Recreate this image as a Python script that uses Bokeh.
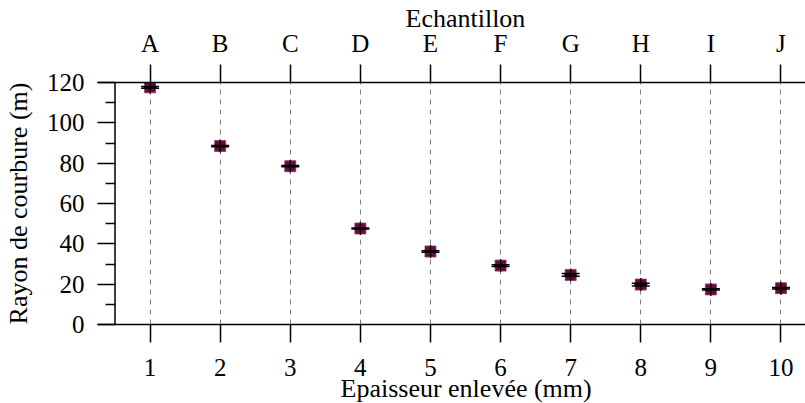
from bokeh.plotting import figure
from bokeh.models import (ColumnDataSource, FixedTicker, LinearAxis, Whisker,
                          TeeHead, Title, Range1d, Span)
from bokeh.embed import file_html
from bokeh.resources import INLINE

# ---- data ----
thickness = [1, 2, 3, 4, 5, 6, 7, 8, 9, 10]
samples = ["A", "B", "C", "D", "E", "F", "G", "H", "I", "J"]
radius = [117.6, 88.5, 78.5, 47.6, 36.2, 29.2, 24.6, 19.8, 17.4, 18.0]
radius_err = [0.4, 0.3, 0.3, 0.3, 0.4, 0.4, 0.65, 0.65, 0.3, 0.35]
y_ticks = [0, 20, 40, 60, 80, 100, 120]
y_minor_ticks = [10, 30, 50, 70, 90, 110]

FONT = "Liberation Serif"
FS = "25px"      # tick labels
FS_T = "26px"    # axis titles

source = ColumnDataSource(dict(
    x=thickness, y=radius,
    upper=[r + e for r, e in zip(radius, radius_err)],
    lower=[r - e for r, e in zip(radius, radius_err)],
))

p = figure(width=805, height=403,
           x_range=Range1d(0.25, 10.35), y_range=Range1d(0, 120),
           output_backend="svg", toolbar_location=None,
           min_border_left=97, min_border_right=0,
           min_border_top=82, min_border_bottom=79)
p.outline_line_color = None
p.background_fill_color = "white"
p.border_fill_color = "white"


def style_labels(ax):
    ax.major_label_text_font = FONT
    ax.major_label_text_font_size = FS
    ax.major_label_text_color = "black"
    ax.major_tick_line_width = 1.5
    ax.minor_tick_line_width = 1.5
    ax.axis_line_width = 1.5


# bottom axis
xa = p.xaxis[0]
xa.ticker = FixedTicker(ticks=thickness)
xa.major_tick_out = 18
xa.major_tick_in = 0
xa.minor_tick_line_color = None
xa.major_label_standoff = 16
style_labels(xa)

# top axis
top = LinearAxis(ticker=FixedTicker(ticks=thickness),
                 major_label_overrides={t: s for t, s in zip(thickness, samples)})
top.major_tick_out = 18
top.major_tick_in = 0
top.minor_tick_line_color = None
top.major_label_standoff = 8
style_labels(top)
p.add_layout(top, "above")

# left axis: labels outside the frame, ticks reaching the line at x = 0.5
ya = p.yaxis[0]
ya.ticker = FixedTicker(ticks=y_ticks, minor_ticks=y_minor_ticks)
ya.major_tick_out = 0
ya.major_tick_in = 18
ya.minor_tick_out = -8
ya.minor_tick_in = 18
ya.axis_line_color = None
ya.major_label_standoff = 13
style_labels(ya)
ya.axis_label = "Rayon de courbure (m)"
ya.axis_label_text_font = FONT
ya.axis_label_text_font_size = FS_T
ya.axis_label_text_font_style = "normal"
ya.axis_label_text_color = "black"
ya.axis_label_standoff = 11
p.add_layout(Span(location=0.5, dimension="height", line_color="black",
                  line_width=1.5))

# grids
p.xgrid.ticker = FixedTicker(ticks=thickness)
p.xgrid.grid_line_color = "#808080"
p.xgrid.grid_line_dash = "5 5"
p.xgrid.grid_line_width = 1
p.ygrid.visible = False

# data marks
p.scatter("x", "y", source=source, marker="square", size=11,
          fill_color="#6b0a40", line_color="#8a3a66", line_width=0.8)
p.scatter("x", "y", source=source, marker="cross", size=13,
          line_color="black", line_width=1.3)
head = dict(size=18, line_width=1.5, line_color="black")
p.add_layout(Whisker(source=source, base="x", upper="upper", lower="lower",
                     line_color="black", line_width=1.3,
                     upper_head=TeeHead(**head), lower_head=TeeHead(**head),
                     level="annotation"))

# axis titles (placed as titles so that they can be shifted horizontally)
tt = dict(text_font=FONT, text_font_size=FS_T, text_font_style="normal",
          text_color="black", align="left")
p.add_layout(Title(text="Echantillon", offset=308, standoff=-12, **tt), "above")
p.add_layout(Title(text="Epaisseur enlevée (mm)", offset=243, standoff=-14, **tt),
             "below")

open("out.html", "w").write(file_html(p, INLINE))
